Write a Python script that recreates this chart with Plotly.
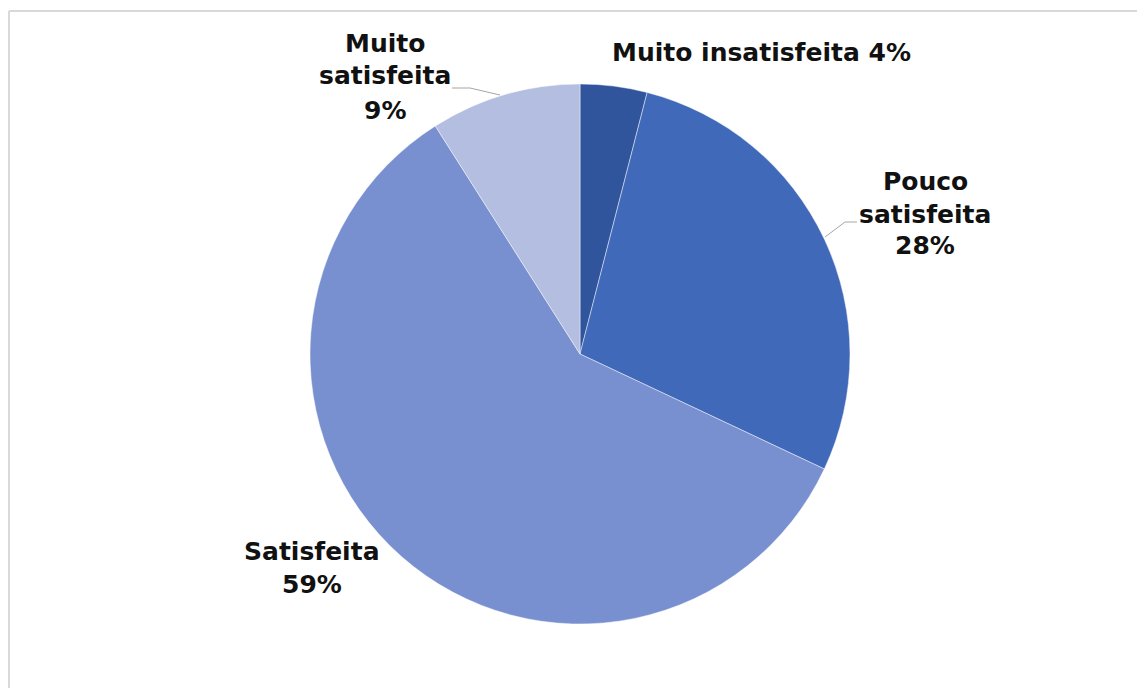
import plotly.graph_objects as go

labels = ["Muito insatisfeita", "Pouco satisfeita", "Satisfeita", "Muito satisfeita"]
values = [4, 28, 59, 9]
colors = ["#30559C", "#4169B9", "#7990D0", "#B3BEE0"]

W, H = 1137, 688
cx, cy, r = 580, 354, 270

def px(x):
    return x / W

def py(y):
    return 1 - y / H

fig = go.Figure(go.Pie(
    labels=labels, values=values, sort=False, direction="clockwise", rotation=0,
    marker=dict(colors=colors, line=dict(color="rgba(255,255,255,0.45)", width=1)),
    textinfo="none", hoverinfo="label+percent", showlegend=False,
    domain=dict(x=[px(cx - r), px(cx + r)], y=[py(cy + r), py(cy - r)]),
))

font = dict(family="DejaVu Sans, Arial, sans-serif", size=25, color="#111111")
# each label: list of text lines, center x, line center y's (px)
label_specs = [
    ([f"{labels[0]} {values[0]}%"], 761, [52]),
    (["Pouco", "satisfeita", f"{values[1]}%"], 925, [181, 214, 246]),
    ([labels[2], f"{values[2]}%"], 312, [551, 584]),
    (["Muito", "satisfeita", f"{values[3]}%"], 385, [43, 76, 110]),
]
anns = []
for lines, x, ys in label_specs:
    for line, y in zip(lines, ys):
        anns.append(dict(text=f"<b>{line}</b>", x=px(x), y=py(y), xref="paper", yref="paper",
                         showarrow=False, font=font, align="center",
                         xanchor="center", yanchor="middle"))

shapes = [
    # chart frame (top and left edges visible)
    dict(type="line", xref="paper", yref="paper", x0=px(9), x1=1.0, y0=py(11), y1=py(11),
         line=dict(color="#D9D9D9", width=2)),
    dict(type="line", xref="paper", yref="paper", x0=px(9), x1=px(9), y0=py(11), y1=0,
         line=dict(color="#D9D9D9", width=2)),
    # leader lines
    dict(type="path", xref="paper", yref="paper",
         path=f"M {px(452)} {py(88)} L {px(470)} {py(88)} L {px(500)} {py(95)}",
         line=dict(color="#A6A6A6", width=1)),
    dict(type="path", xref="paper", yref="paper",
         path=f"M {px(857)} {py(222)} L {px(845)} {py(222)} L {px(825)} {py(237)}",
         line=dict(color="#A6A6A6", width=1)),
]

fig.update_layout(
    width=W, height=H, margin=dict(l=0, r=0, t=0, b=0),
    paper_bgcolor="white", plot_bgcolor="white",
    annotations=anns, shapes=shapes,
)

fig.write_html("out.html")
